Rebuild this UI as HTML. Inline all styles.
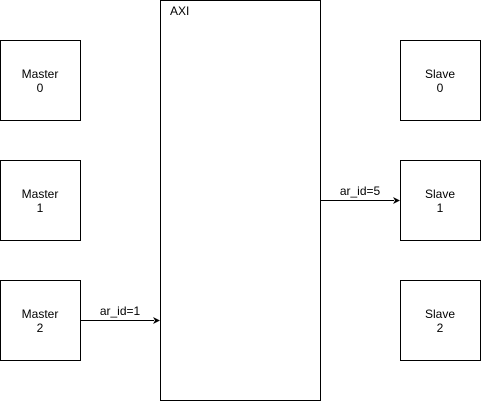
<!DOCTYPE html>
<html><head><style>body{margin:0;background:#fff}</style></head><body>
<svg width="481" height="401" xmlns="http://www.w3.org/2000/svg" font-family="Liberation Sans, sans-serif" font-size="12">
<g fill="#fff" stroke="#000" stroke-width="1">
<rect x="0.5" y="40.5" width="80" height="80"/>
<rect x="0.5" y="160.5" width="80" height="80"/>
<rect x="0.5" y="280.5" width="80" height="80"/>
<rect x="160.5" y="0.5" width="160" height="400"/>
<rect x="400.5" y="40.5" width="80" height="80"/>
<rect x="400.5" y="160.5" width="80" height="80"/>
<rect x="400.5" y="280.5" width="80" height="80"/>
</g>
<g text-anchor="middle" fill="#000">
<text x="40" y="78">Master</text><text x="40" y="92">0</text>
<text x="40" y="198">Master</text><text x="40" y="212">1</text>
<text x="40" y="318">Master</text><text x="40" y="332">2</text>
<text x="440" y="78">Slave</text><text x="440" y="92">0</text>
<text x="440" y="198">Slave</text><text x="440" y="212">1</text>
<text x="440" y="318">Slave</text><text x="440" y="332">2</text>
<text x="120" y="315">ar_id=1</text>
<text x="360" y="195">ar_id=5</text>
</g>
<text x="170" y="15">AXI</text>
<g stroke="#000" stroke-width="1">
<line x1="80" y1="320.5" x2="154" y2="320.5"/>
<line x1="320" y1="200.5" x2="394" y2="200.5"/>
</g>
<polygon points="160,320.5 153,317 155,320.5 153,324"/>
<polygon points="400,200.5 393,197 395,200.5 393,204"/>
</svg>
</body></html>
